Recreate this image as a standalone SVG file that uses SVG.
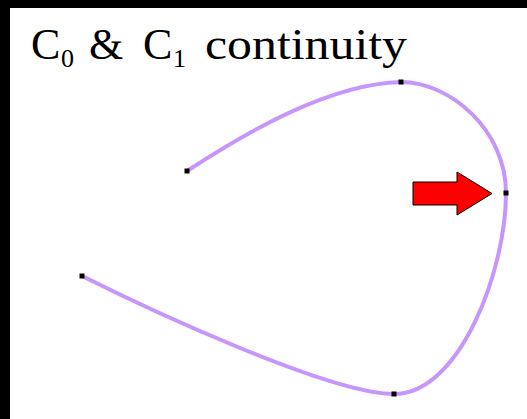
<svg xmlns="http://www.w3.org/2000/svg" width="527" height="419" viewBox="0 0 527 419">
  <style>
    .curve { fill: none; stroke: #C696FA; stroke-width: 4; stroke-linecap: round; }
    .pt { fill: #000000; }
    .title { font-family: "Liberation Serif", "Times New Roman", serif; font-size: 44px; fill: #000000; }
    .sub { font-size: 26px; }
  </style>
  <rect x="0" y="0" width="527" height="419" fill="#000000"/>
  <rect x="10" y="8" width="517" height="411" fill="#FFFFFF"/>
  <g id="title">
    <text class="title" x="31" y="59">C</text>
    <text class="title sub" x="61" y="67">0</text>
    <text class="title" x="89" y="59">&amp;</text>
    <text class="title" x="143" y="59">C</text>
    <text class="title sub" x="173" y="67">1</text>
    <text class="title" x="205" y="59" textLength="202" lengthAdjust="spacingAndGlyphs">continuity</text>
  </g>
  <g id="connectors">
    <path class="curve" d="M187,171 C250,130 330,84 401,82 C450,82 506,130 506,193 C506,270 460,394 394,394 C330,394 150,310 82,276"/>
  </g>
  <g id="points">
    <rect class="pt" x="184.5" y="168.5" width="5" height="5"/>
    <rect class="pt" x="398.5" y="79.5" width="5" height="5"/>
    <rect class="pt" x="503.5" y="190.5" width="5" height="5"/>
    <rect class="pt" x="391.5" y="391.5" width="5" height="5"/>
    <rect class="pt" x="79.5" y="273.5" width="5" height="5"/>
  </g>
  <g id="arrow">
    <polygon points="413,182 457,182 457,172 492,193.5 457,215 457,205 413,205" fill="#FF0000" stroke="#000000" stroke-width="1"/>
  </g>
</svg>
